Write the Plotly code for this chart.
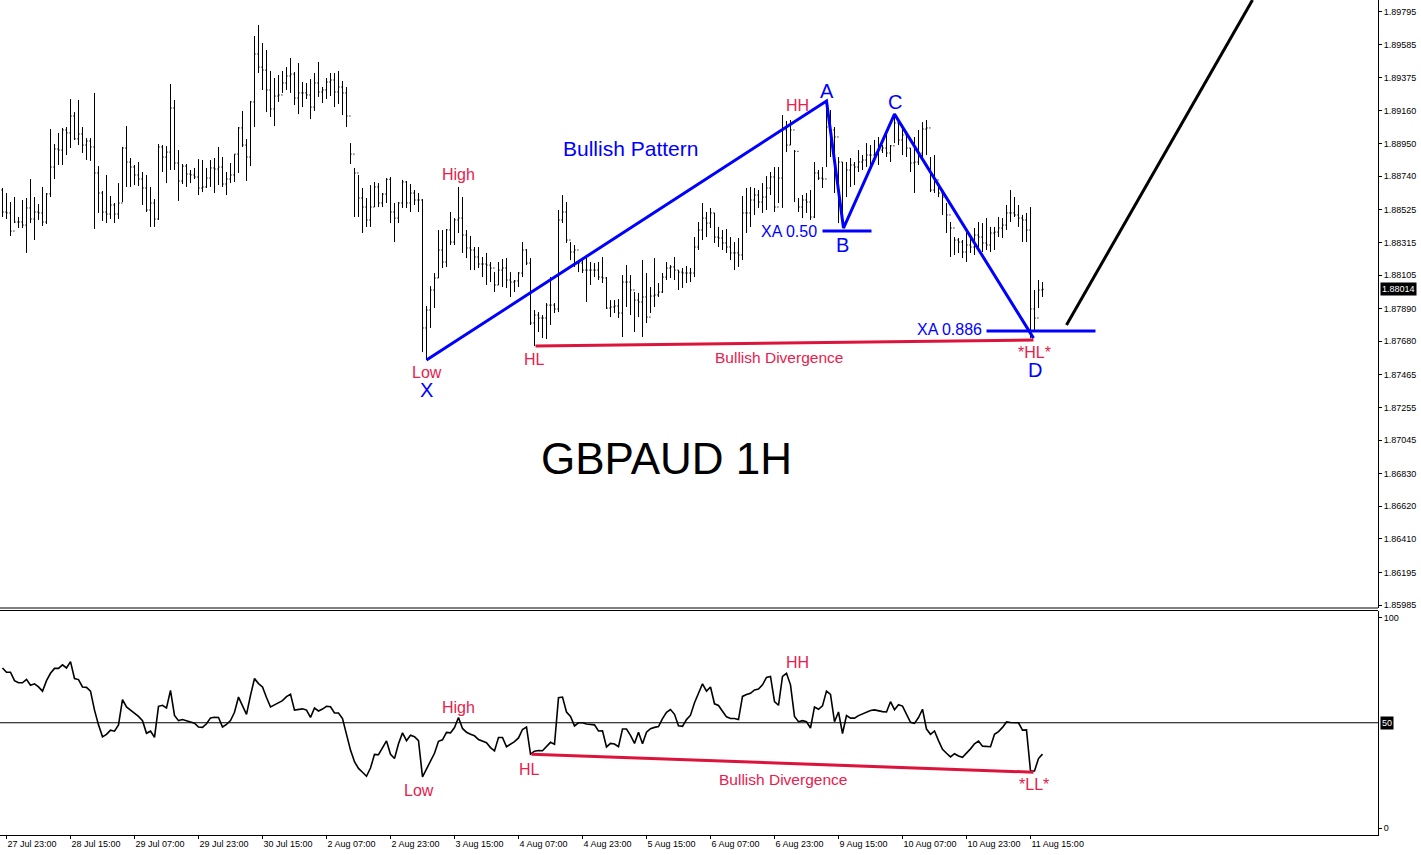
import plotly.graph_objects as go

# ---------------- data ----------------
highs = [
1.88664,1.88632,1.88574,1.88606,1.88478,1.88587,1.88600,1.88722,1.88606,1.88561,
1.88671,1.88632,1.89043,1.88947,1.89018,1.89050,1.89056,1.89236,1.89152,1.89230,
1.89056,1.88985,1.88985,1.89275,1.88805,1.88645,1.88748,1.88613,1.88568,1.88696,
1.88928,1.89062,1.88857,1.88812,1.88831,1.88767,1.88748,1.88671,1.88593,1.88947,
1.88940,1.88934,1.89332,1.89230,1.88908,1.88818,1.88818,1.88780,1.88793,1.88850,
1.88844,1.88793,1.88844,1.88857,1.88928,1.88863,1.88767,1.88825,1.88882,1.89056,
1.89159,1.88979,1.89223,1.89641,1.89711,1.89596,1.89551,1.89416,1.89371,1.89390,
1.89416,1.89441,1.89499,1.89409,1.89467,1.89345,1.89339,1.89364,1.89403,1.89474,
1.89313,1.89371,1.89403,1.89403,1.89416,1.89352,1.89313,1.88953,1.88793,1.88748,
1.88664,1.88600,1.88683,1.88703,1.88696,1.88632,1.88728,1.88735,1.88568,1.88574,
1.88716,1.88709,1.88690,1.88651,1.88632,1.88593,1.87906,1.88034,1.88118,1.88394,
1.88394,1.88401,1.88510,1.88471,1.88671,1.88606,1.88394,1.88356,1.88285,1.88285,
1.88221,1.88247,1.88189,1.88124,1.88189,1.88208,1.88214,1.88124,1.88073,1.88124,
1.88317,1.88272,1.88214,1.87880,1.87867,1.87848,1.87925,1.88092,1.87925,1.88523,
1.88619,1.88574,1.88317,1.88298,1.88201,1.88201,1.88221,1.88189,1.88182,1.88189,
1.88221,1.88092,1.87944,1.87944,1.87951,1.88105,1.88169,1.88105,1.87996,1.87990,
1.88201,1.88118,1.88028,1.88214,1.88054,1.88118,1.88189,1.88169,1.88221,1.88137,
1.88150,1.88163,1.88150,1.88349,1.88446,1.88568,1.88510,1.88536,1.88504,1.88414,
1.88394,1.88401,1.88349,1.88317,1.88343,1.88613,1.88664,1.88671,1.88664,1.88651,
1.88696,1.88741,1.88767,1.88799,1.88799,1.89133,1.89095,1.89101,1.88908,1.88600,
1.88619,1.88632,1.88651,1.88831,1.88780,1.88799,1.89217,1.89165,1.89056,1.88863,
1.88831,1.88831,1.88857,1.88831,1.88908,1.88876,1.88953,1.88940,1.88973,1.88992,
1.88940,1.89024,1.88940,1.89139,1.89088,1.89056,1.89005,1.88921,1.88992,1.89037,
1.89088,1.89101,1.88863,1.88876,1.88683,1.88651,1.88568,1.88446,1.88349,1.88343,
1.88330,1.88381,1.88343,1.88407,1.88446,1.88439,1.88471,1.88414,1.88414,1.88478,
1.88471,1.88555,1.88651,1.88606,1.88555,1.88491,1.88504,1.88542,1.88009,1.88073,
1.88060]

lows = [
1.88478,1.88465,1.88356,1.88439,1.88407,1.88407,1.88247,1.88439,1.88330,1.88459,
1.88420,1.88433,1.88606,1.88722,1.88812,1.88812,1.88876,1.88921,1.88973,1.88940,
1.88889,1.88844,1.88838,1.88401,1.88504,1.88452,1.88439,1.88465,1.88439,1.88465,
1.88574,1.88671,1.88671,1.88683,1.88677,1.88555,1.88510,1.88414,1.88414,1.88459,
1.88767,1.88696,1.88780,1.88780,1.88581,1.88690,1.88671,1.88696,1.88722,1.88619,
1.88638,1.88664,1.88671,1.88632,1.88683,1.88671,1.88619,1.88696,1.88703,1.88761,
1.88928,1.88709,1.88805,1.89056,1.89403,1.89294,1.89152,1.89120,1.89062,1.89217,
1.89275,1.89294,1.89275,1.89197,1.89139,1.89184,1.89236,1.89107,1.89159,1.89249,
1.89210,1.89236,1.89255,1.89184,1.89204,1.89133,1.89056,1.88818,1.88478,1.88478,
1.88375,1.88414,1.88414,1.88542,1.88542,1.88542,1.88568,1.88439,1.88317,1.88439,
1.88536,1.88536,1.88510,1.88555,1.88510,1.87610,1.87559,1.87765,1.87893,1.88086,
1.88150,1.88157,1.88298,1.88298,1.88375,1.88247,1.88214,1.88137,1.88137,1.88150,
1.88092,1.88041,1.88060,1.87996,1.88041,1.88028,1.88022,1.87964,1.87996,1.88028,
1.88092,1.88169,1.87784,1.87649,1.87739,1.87700,1.87694,1.87784,1.87861,1.87867,
1.88439,1.88311,1.88201,1.88157,1.88124,1.88118,1.87932,1.88041,1.88092,1.88073,
1.88054,1.87887,1.87835,1.87861,1.87829,1.87707,1.87900,1.87848,1.87739,1.87835,
1.87707,1.87797,1.87861,1.87900,1.87964,1.87990,1.88073,1.88086,1.88073,1.88009,
1.88022,1.88054,1.88060,1.88092,1.88266,1.88330,1.88349,1.88407,1.88311,1.88285,
1.88266,1.88247,1.88201,1.88137,1.88157,1.88201,1.88375,1.88414,1.88491,1.88536,
1.88504,1.88523,1.88619,1.88510,1.88568,1.88536,1.88895,1.88940,1.88574,1.88510,
1.88471,1.88504,1.88459,1.88471,1.88716,1.88664,1.88799,1.88863,1.88632,1.88439,
1.88414,1.88606,1.88671,1.88683,1.88767,1.88780,1.88799,1.88812,1.88844,1.88812,
1.88889,1.88863,1.88831,1.88953,1.88940,1.88876,1.88863,1.88767,1.88632,1.88812,
1.88863,1.88876,1.88638,1.88632,1.88606,1.88491,1.88375,1.88221,1.88234,1.88247,
1.88214,1.88189,1.88247,1.88234,1.88279,1.88253,1.88266,1.88253,1.88266,1.88349,
1.88343,1.88394,1.88446,1.88478,1.88414,1.88317,1.88317,1.87700,1.87752,1.87893,
1.87964]

closes = [
1.88510,1.88504,1.88388,1.88446,1.88446,1.88426,1.88536,1.88465,1.88510,1.88504,
1.88446,1.88626,1.88799,1.88915,1.88908,1.89037,1.89018,1.89127,1.88980,1.89011,
1.88940,1.88966,1.88928,1.88761,1.88632,1.88510,1.88497,1.88555,1.88497,1.88568,
1.88921,1.88831,1.88799,1.88748,1.88722,1.88664,1.88523,1.88568,1.88465,1.88928,
1.88863,1.88895,1.89178,1.88825,1.88709,1.88805,1.88754,1.88748,1.88735,1.88664,
1.88671,1.88728,1.88793,1.88786,1.88799,1.88690,1.88722,1.88748,1.88882,1.89050,
1.88940,1.88863,1.89217,1.89525,1.89441,1.89422,1.89294,1.89172,1.89255,1.89262,
1.89339,1.89384,1.89396,1.89242,1.89275,1.89275,1.89262,1.89184,1.89339,1.89281,
1.89294,1.89345,1.89358,1.89281,1.89313,1.89275,1.89127,1.88882,1.88761,1.88600,
1.88542,1.88459,1.88542,1.88671,1.88568,1.88625,1.88720,1.88510,1.88471,1.88568,
1.88703,1.88568,1.88632,1.88587,1.88587,1.87765,1.87880,1.88009,1.88086,1.88266,
1.88189,1.88395,1.88317,1.88459,1.88471,1.88362,1.88279,1.88266,1.88221,1.88176,
1.88176,1.88169,1.88150,1.88041,1.88137,1.88150,1.88073,1.88060,1.88067,1.88118,
1.88266,1.88182,1.87797,1.87848,1.87829,1.87829,1.87912,1.87912,1.87887,1.88459,
1.88510,1.88330,1.88253,1.88266,1.88182,1.88137,1.88137,1.88137,1.88137,1.88092,
1.88086,1.87893,1.87900,1.87906,1.87861,1.88060,1.88060,1.88009,1.87944,1.87932,
1.87964,1.87835,1.87970,1.87977,1.87996,1.88092,1.88150,1.88157,1.88137,1.88124,
1.88118,1.88118,1.88118,1.88285,1.88394,1.88471,1.88439,1.88504,1.88349,1.88343,
1.88311,1.88285,1.88247,1.88247,1.88234,1.88504,1.88504,1.88587,1.88619,1.88574,
1.88606,1.88664,1.88735,1.88542,1.88728,1.89037,1.88940,1.89037,1.88900,1.88542,
1.88587,1.88574,1.88478,1.88761,1.88728,1.88722,1.89056,1.89037,1.88992,1.88831,
1.88446,1.88780,1.88812,1.88799,1.88831,1.88844,1.88876,1.88876,1.88889,1.88908,
1.88921,1.88889,1.88935,1.89082,1.88973,1.89005,1.88921,1.88825,1.88831,1.88889,
1.89043,1.89050,1.88651,1.88716,1.88632,1.88606,1.88491,1.88407,1.88330,1.88317,
1.88253,1.88298,1.88285,1.88362,1.88349,1.88311,1.88298,1.88375,1.88381,1.88407,
1.88426,1.88504,1.88504,1.88491,1.88471,1.88459,1.88394,1.87887,1.87829,1.88009,
1.88014]

first_open = 1.88651
opens = [first_open] + closes[:-1]

rsi = [
76,74,74,70,69,69,70.6,67.8,68.5,67,
65,70,73.5,75.8,75.8,77.5,76,79,71,70.5,
67,66.8,65,56,49,43.3,44.5,46.5,46,49,
61,57.5,56,54.5,53,51,45,46,43.1,57.8,
58.3,57,65.4,53.5,51,51.5,51,50.4,49.8,48,
47.8,49.5,52.3,52.6,52.5,48,49.2,51,55,62.2,
57.8,54,63,71,68.6,67,62,57.5,58.5,59.6,
60.5,62.4,63.5,56,56.2,56.6,56,52.5,57,55.6,
56.5,57.8,57.6,54.7,54.6,52,44.5,37,31.5,28.3,
26.5,24.6,28.5,35,34.8,38,41.4,35,33,40,
45.2,41.5,44.1,43.4,41.5,24.3,27.8,31.6,35.5,41.2,
41.9,45.4,45.2,47.7,52.5,47.3,45.5,44.5,43.8,42,
41.4,40.5,38.2,36.6,43,43,38.6,39.8,41,42.8,
46.8,48,35.1,36.5,36.8,36.7,38.5,40.7,39.8,61.9,
62.2,55.1,53,48.5,50,50,49.4,49.3,49,46.1,
46.2,38.5,40.2,39.9,38.6,47,47,44,40.2,45.5,
40,45.5,47.2,47.8,48.2,52,55,56.3,54,48.6,
48.3,51.5,53.6,59.5,64,68.5,65,67,59,58.2,
55.5,52.8,52,52,51.5,62.5,63.4,64,65.6,66,
68,71.5,72,60,58.3,72,73.5,68,53,50.5,
51,50.5,47.5,57.5,56.4,58,65,63.5,50.5,55.1,
44.9,53.4,52.2,52.2,53.4,54.3,55.1,55.8,56.1,55.6,
55.3,55.1,60,56.2,58.6,57.9,54.4,50.2,49.7,52.5,
56.4,47,44.5,46.1,41.5,37.4,35.5,33.8,35.3,34.2,
33.6,35.5,37.6,40,41.3,38.9,38.9,38.6,44.5,45.8,
47.8,50.4,50.1,49.9,50,46.5,46.6,27.1,27.1,33,
35.1]

bars = list(range(len(closes)))

time_tick_bars = [1, 17, 33, 49, 65, 81, 97, 113, 129, 145, 161, 177, 193, 209, 225, 241, 257]
time_tick_labels = ["27 Jul 23:00", "28 Jul 15:00", "29 Jul 07:00", "29 Jul 23:00", "30 Jul 15:00",
                    "2 Aug 07:00", "2 Aug 23:00", "3 Aug 15:00", "4 Aug 07:00", "4 Aug 23:00",
                    "5 Aug 15:00", "6 Aug 07:00", "6 Aug 23:00", "9 Aug 15:00", "10 Aug 07:00",
                    "10 Aug 23:00", "11 Aug 15:00"]

price_ticks = [1.89795, 1.89585, 1.89375, 1.89160, 1.88950, 1.88740, 1.88525, 1.88315, 1.88105,
               1.87890, 1.87680, 1.87465, 1.87255, 1.87045, 1.86830, 1.86620, 1.86410, 1.86195, 1.85985]
last_price = 1.88014

# XABCD harmonic pattern
pattern_names = ["X", "A", "B", "C", "D"]
pattern_bars = [106, 206, 210.25, 223, 257.75]
pattern_prices = [1.87559, 1.89223, 1.88407, 1.89139, 1.87700]
level_050 = 1.88388
level_050_bars = [205, 217.25]
level_0886 = 1.87745
level_0886_bars = [246, 273.25]

# divergence lines
price_div_bars = [133.25, 257.75]
price_div_vals = [1.87649, 1.87688]
rsi_div_bars = [132.25, 257.75]
rsi_div_vals = [35.1, 26.5]

# projected move
proj_bars = [266, 312.5]
proj_prices = [1.87784, 1.89872]

RED_T = "#E8204E"
RED_L = "#DC143C"
BLUE = "#0000FF"
FONT = "Liberation Sans, Arial, sans-serif"

fig = go.Figure()

fig.add_trace(go.Ohlc(
    x=bars, open=opens, high=highs, low=lows, close=closes,
    increasing=dict(line=dict(color="black", width=1)),
    decreasing=dict(line=dict(color="black", width=1)),
    tickwidth=0.3, xaxis="x", yaxis="y", showlegend=False, hoverinfo="skip"))

fig.add_trace(go.Scatter(x=pattern_bars, y=pattern_prices, mode="lines",
                         line=dict(color=BLUE, width=3), xaxis="x", yaxis="y",
                         showlegend=False, hoverinfo="skip"))
fig.add_trace(go.Scatter(x=level_050_bars, y=[level_050, level_050], mode="lines",
                         line=dict(color=BLUE, width=3), showlegend=False, hoverinfo="skip"))
fig.add_trace(go.Scatter(x=level_0886_bars, y=[level_0886, level_0886], mode="lines",
                         line=dict(color=BLUE, width=3), showlegend=False, hoverinfo="skip"))
fig.add_trace(go.Scatter(x=price_div_bars, y=price_div_vals, mode="lines",
                         line=dict(color=RED_L, width=3), showlegend=False, hoverinfo="skip"))
fig.add_trace(go.Scatter(x=proj_bars, y=proj_prices, mode="lines",
                         line=dict(color="black", width=3), showlegend=False, hoverinfo="skip"))

fig.add_trace(go.Scatter(x=bars, y=rsi, mode="lines", line=dict(color="black", width=1.6),
                         xaxis="x", yaxis="y2", showlegend=False, hoverinfo="skip"))
fig.add_trace(go.Scatter(x=rsi_div_bars, y=rsi_div_vals, mode="lines",
                         line=dict(color=RED_L, width=3), xaxis="x", yaxis="y2",
                         showlegend=False, hoverinfo="skip"))

W, H = 1421, 855
plot_bottom = 835
price_dom = [1 - 608 / plot_bottom, 1]
rsi_dom = [0, (plot_bottom - 610.5) / plot_bottom]

tickfont = dict(family=FONT, size=9, color="black")

fig.update_layout(
    width=W, height=H,
    margin=dict(l=0, r=43, t=0, b=20, pad=0),
    paper_bgcolor="white", plot_bgcolor="white",
    hovermode=False, showlegend=False,
    xaxis=dict(range=[-0.625, 343.875], anchor="y2", showgrid=False, zeroline=False,
               rangeslider=dict(visible=False),
               tickmode="array", tickvals=time_tick_bars, ticktext=time_tick_labels,
               ticks="outside", ticklen=3, tickcolor="black", tickfont=tickfont,
               ticklabelposition="outside right",
               showline=True, linecolor="black", linewidth=1),
    yaxis=dict(domain=price_dom, range=[1.85966, 1.89872], side="right", anchor="x",
               showgrid=False, zeroline=False,
               tickmode="array", tickvals=price_ticks, ticktext=[f"{v:.5f}" for v in price_ticks],
               ticks="outside", ticklen=3, tickcolor="black", tickfont=tickfont,
               showline=True, linecolor="black", linewidth=1),
    yaxis2=dict(domain=rsi_dom, range=[-3.3, 103.3], side="right", anchor="x",
                showgrid=False, zeroline=False,
                tickmode="array", tickvals=[0, 100], ticktext=["0", "100"],
                ticks="outside", ticklen=3, tickcolor="black", tickfont=tickfont,
                showline=True, linecolor="black", linewidth=1),
    font=dict(family=FONT),
)

# panel separators and RSI 50 level
fig.add_shape(type="line", xref="paper", yref="paper", x0=0, x1=1,
              y0=price_dom[0], y1=price_dom[0], line=dict(color="black", width=1))
fig.add_shape(type="line", xref="paper", yref="paper", x0=0, x1=1,
              y0=rsi_dom[1], y1=rsi_dom[1], line=dict(color="black", width=1))
fig.add_shape(type="line", xref="paper", yref="y2", x0=0, x1=1, y0=50, y1=50,
              line=dict(color="black", width=1))

def txt(x, y, s, color, size, yref="y", xanchor="center"):
    fig.add_annotation(x=x, y=y, xref="x", yref=yref, text=s, showarrow=False,
                       xanchor=xanchor, yanchor="middle",
                       font=dict(family=FONT, size=size, color=color))

# price panel labels
txt(157, 1.88921, "Bullish Pattern", BLUE, 21)
txt(166, 1.86929, "GBPAUD 1H", "black", 44)
txt(114, 1.88748, "High", RED_T, 16)
txt(198.75, 1.89197, "HH", RED_T, 16)
txt(106, 1.87482, "Low", RED_T, 16)
txt(133, 1.87565, "HL", RED_T, 16)
txt(194, 1.87578, "Bullish Divergence", RED_T, 15.5)
txt(258, 1.87610, "*HL*", RED_T, 16)
txt(204, 1.88388, "XA 0.50", BLUE, 16, xanchor="right")
txt(245.25, 1.87752, "XA 0.886", BLUE, 16, xanchor="right")
letter_pos = {"X": (106, 1.87366), "A": (206, 1.89287), "B": (210, 1.88298),
              "C": (223, 1.89217), "D": (258, 1.87494)}
for name in pattern_names:
    bx, py = letter_pos[name]
    txt(bx, py, name, BLUE, 20)

# RSI panel labels
txt(114, 57.3, "High", RED_T, 16, yref="y2")
txt(104, 18, "Low", RED_T, 16, yref="y2")
txt(131.75, 28, "HL", RED_T, 16, yref="y2")
txt(198.75, 78.7, "HH", RED_T, 16, yref="y2")
txt(195, 23.2, "Bullish Divergence", RED_T, 15.5, yref="y2")
txt(257.75, 20.9, "*LL*", RED_T, 16, yref="y2")

# highlighted axis labels
fig.add_annotation(x=1, xref="paper", xanchor="left", xshift=2, y=last_price, yref="y",
                   text=f"{last_price:.5f}", showarrow=False, bgcolor="black", borderpad=1,
                   font=dict(family=FONT, size=9, color="white"))
fig.add_annotation(x=1, xref="paper", xanchor="left", xshift=2, y=50, yref="y2",
                   text="50", showarrow=False, bgcolor="black", borderpad=1,
                   font=dict(family=FONT, size=9, color="white"))

fig.write_html("out.html", config={"displayModeBar": False},
               post_script="document.body.style.margin='0';document.body.style.padding='0';")
